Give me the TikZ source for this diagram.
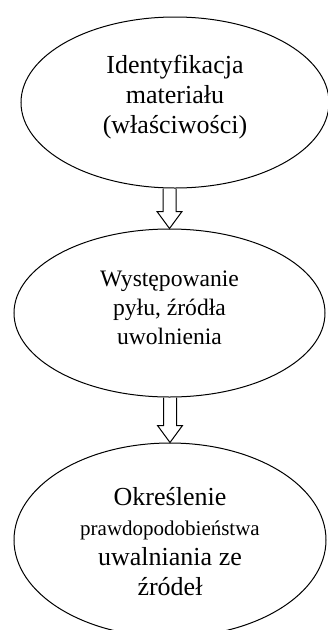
\documentclass[tikz,border=0pt]{standalone}
\usepackage{fontspec}
\setmainfont{Liberation Serif}
\usetikzlibrary{shapes.geometric,calc}

\begin{document}
\begin{tikzpicture}[
  x=1pt,y=-1pt,
  stage/.style={ellipse,draw,line width=1pt,inner sep=0pt},
  stagetext/.style={align=center,inner sep=0pt},
  hollow/.style={draw,line width=1pt,line join=miter},
]

\useasboundingbox (0,0) rectangle (328,630);

% Stages
\node[stage,minimum width=308pt,minimum height=171pt] (ident) at (175,102.5) {};
\node[stage,minimum width=311pt,minimum height=168pt] (pyl) at (169.5,313) {};
\node[stage,minimum width=312pt,minimum height=194pt] (prawd) at (170,540) {};

% Stage texts
\node[stagetext,font=\fontsize{26}{30}\selectfont] (identtxt)
  at ($(ident)+(0,-5.5)$) {Identyfikacja\\materiału\\(właściwości)};
\node[stagetext,font=\fontsize{23.6}{29}\selectfont] (pyltxt)
  at ($(pyl)+(0,-5.5)$) {Występowanie\\pyłu, źródła\\uwolnienia};
\node[stagetext,font=\fontsize{26}{30}\selectfont] (prawdtxt)
  at ($(prawd)+(0,1.5)$)
  {Określenie\\{\fontsize{21}{28}\selectfont prawdopodobieństwa}\\uwalniania ze\\źródeł};

% Hollow arrows
\coordinate (h1) at ($(pyl.north)+(0,-17)$);
\draw[hollow] ($(pyl.north |- ident.south)+(-6.5,0)$) -- ($(h1)+(-6.5,0)$)
  -- ($(h1)+(-12.5,0)$) -- (pyl.north) -- ($(h1)+(12.5,0)$)
  -- ($(h1)+(6.5,0)$) -- ($(pyl.north |- ident.south)+(6.5,0)$);

\coordinate (h2) at ($(prawd.north)+(0,-17)$);
\draw[hollow] ($(prawd.north |- pyl.south)+(-6.5,0)$) -- ($(h2)+(-6.5,0)$)
  -- ($(h2)+(-12.5,0)$) -- (prawd.north) -- ($(h2)+(12.5,0)$)
  -- ($(h2)+(6.5,0)$) -- ($(prawd.north |- pyl.south)+(6.5,0)$);

\end{tikzpicture}
\end{document}
